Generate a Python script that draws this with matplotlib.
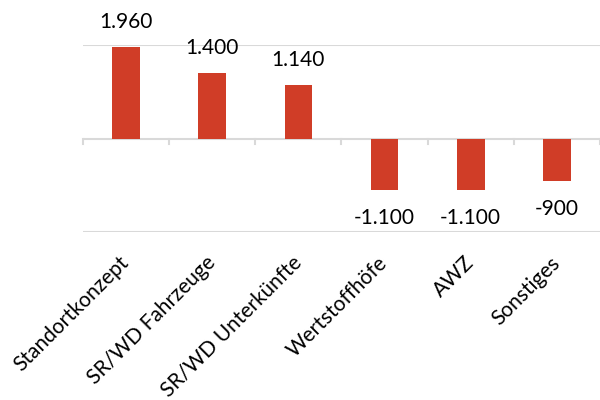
import matplotlib
matplotlib.use("Agg")
import matplotlib.pyplot as plt

plt.rcParams["font.family"] = ["Lato", "DejaVu Sans"]

categories = ["Standortkonzept", "SR/WD Fahrzeuge", "SR/WD Unterkünfte",
              "Wertstoffhöfe", "AWZ", "Sonstiges"]
values = [1960, 1400, 1140, -1100, -1100, -900]
value_labels = ["1.960", "1.400", "1.140", "-1.100", "-1.100", "-900"]

bar_color = "#d03d27"
grid_color = "#d9d9d9"

fig = plt.figure(figsize=(6, 4), dpi=100)
ax = fig.add_axes([83 / 600, 1 - 232 / 400, 1 - 83 / 600, (232 - 45) / 400])

x = list(range(len(categories)))
ax.bar(x, values, width=0.32, color=bar_color, zorder=3)

ax.set_xlim(-0.5, len(categories) - 0.5)
ax.set_ylim(-2000, 2000)

# gridlines and zero axis
for yv in (-2000, 2000):
    ax.axhline(yv, color=grid_color, lw=1.5, zorder=1)
ax.axhline(0, color=grid_color, lw=1.5, zorder=2)
for b in [i - 0.5 for i in range(len(categories) + 1)]:
    ax.plot([b, b], [0, -110], color=grid_color, lw=1.5, zorder=2, clip_on=False)

for i, (v, lab) in enumerate(zip(values, value_labels)):
    if v >= 0:
        ax.annotate(lab, (i, v), xytext=(0, 11), textcoords="offset points",
                    ha="center", va="bottom", fontsize=15)
    else:
        ax.annotate(lab, (i, v), xytext=(0, -13), textcoords="offset points",
                    ha="center", va="top", fontsize=15)

for s in ax.spines.values():
    s.set_visible(False)
ax.set_yticks([])
ax.set_xticks(x)
ax.set_xticklabels(categories, rotation=45, ha="right", va="center",
                   rotation_mode="anchor", fontsize=15)
ax.tick_params(axis="x", length=0, pad=20)

fig.savefig("out.png", dpi=100)
